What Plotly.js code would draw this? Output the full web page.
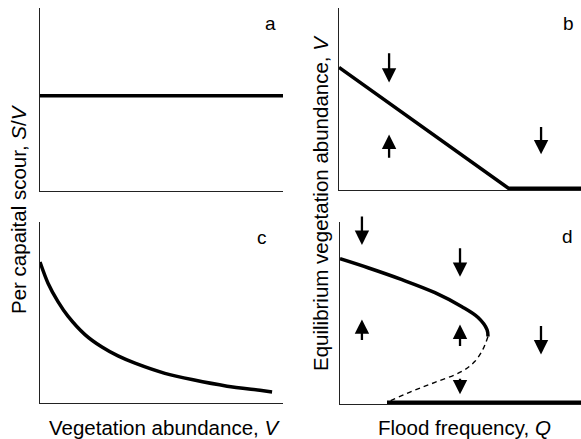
<!DOCTYPE html>
<html>
<head>
<meta charset="utf-8">
<script src="https://cdn.plot.ly/plotly-3.0.1.min.js"></script>
<style>html,body{margin:0;padding:0;background:#fff;}#chart{width:581px;height:439px;}</style>
</head>
<body>
<div id="chart"></div>
<script>
// Panel a: per capita scour vs vegetation abundance (constant)
var aX = [0, 10];
var aY = [5.2, 5.2];
// Panel b: equilibrium V vs flood frequency (linear)
var bX = [0, 7.0, 10];
var bY = [6.7, 0, 0];
// Panel c: per capita scour decreasing with V
var cX = [0, 0.33, 0.74, 1.15, 1.85, 2.55, 3.21, 3.91, 5.14, 6.30, 7.70, 9.05, 9.55];
var cY = [7.79, 6.62, 5.60, 4.80, 3.78, 3.09, 2.60, 2.20, 1.64, 1.28, 0.93, 0.70, 0.61];
// Panel d: stable upper branch (solid), unstable branch (dashed), zero branch
var dStableX = [0, 1.16, 2.57, 3.94, 5.06, 5.73, 6.10, 6.14];
var dStableY = [7.96, 7.46, 6.80, 6.08, 5.30, 4.70, 4.03, 3.65];
var dUnstableX = [6.14, 5.93, 5.60, 5.06, 3.94, 2.99, 1.95];
var dUnstableY = [3.65, 2.93, 2.27, 1.71, 1.10, 0.61, 0];
var dZeroX = [1.95, 10];
var dZeroY = [0, 0];
// Arrows: x, tail y, head y
var bArrowX = [2.07, 2.07, 8.35];
var bArrowTail = [7.57, 1.60, 3.48];
var bArrowHead = [5.86, 2.98, 1.88];
var dArrowX = [0.91, 4.98, 0.91, 4.98, 8.34, 4.98];
var dArrowTail = [10.39, 8.62, 3.37, 3.04, 4.31, 1.38];
var dArrowHead = [8.73, 6.96, 4.59, 4.31, 2.65, 0.44];
var panelLabels = ['a', 'b', 'c', 'd'];

var LW = 3.5;
var traces = [
  {x: aX, y: aY, xaxis: 'x', yaxis: 'y', mode: 'lines', line: {color: '#000', width: LW}},
  {x: bX, y: bY, xaxis: 'x2', yaxis: 'y2', mode: 'lines', line: {color: '#000', width: LW}},
  {x: cX, y: cY, xaxis: 'x3', yaxis: 'y3', mode: 'lines', line: {color: '#000', width: LW, shape: 'spline', smoothing: 0.8}},
  {x: dStableX, y: dStableY, xaxis: 'x4', yaxis: 'y4', mode: 'lines', line: {color: '#000', width: LW, shape: 'spline'}},
  {x: dUnstableX, y: dUnstableY, xaxis: 'x4', yaxis: 'y4', mode: 'lines', line: {color: '#000', width: 1.4, dash: '5px,4px', shape: 'spline'}},
  {x: dZeroX, y: dZeroY, xaxis: 'x4', yaxis: 'y4', mode: 'lines', line: {color: '#000', width: LW}}
];

function ax(domain, range, anchor) {
  return {domain: domain, range: range, anchor: anchor, showline: true, linecolor: '#222', linewidth: 1.2,
    showgrid: false, zeroline: false, showticklabels: false, ticks: '', fixedrange: true};
}

var annotations = [];
function arrows(xs, tails, heads, xr, yr) {
  for (var i = 0; i < xs.length; i++) {
    annotations.push({x: xs[i], y: heads[i], ax: xs[i], ay: tails[i], xref: xr, yref: yr, axref: xr, ayref: yr,
      text: '', showarrow: true, arrowhead: 2, arrowsize: 1.25, arrowwidth: 2.3, arrowcolor: '#000', standoff: 0, startstandoff: 0});
  }
}
arrows(bArrowX, bArrowTail, bArrowHead, 'x2', 'y2');
arrows(dArrowX, dArrowTail, dArrowHead, 'x4', 'y4');

var labelPos = [[270, 23], [568, 23], [262, 237], [567, 236]];
var font = {family: 'Liberation Sans, Arial, sans-serif', color: '#000'};
for (var k = 0; k < panelLabels.length; k++) {
  annotations.push({text: panelLabels[k], xref: 'paper', yref: 'paper', x: labelPos[k][0] / 581, y: 1 - labelPos[k][1] / 439,
    xanchor: 'center', yanchor: 'middle', showarrow: false, font: {family: font.family, color: '#000', size: 19}});
}
var tf = {family: font.family, color: '#000', size: 20.5};
annotations.push({text: 'Vegetation abundance, <i>V</i>', xref: 'paper', yref: 'paper', x: 164 / 581, y: 1 - 427 / 439,
  xanchor: 'center', yanchor: 'middle', showarrow: false, font: tf});
annotations.push({text: 'Flood frequency, <i>Q</i>', xref: 'paper', yref: 'paper', x: 464 / 581, y: 1 - 427 / 439,
  xanchor: 'center', yanchor: 'middle', showarrow: false, font: tf});
annotations.push({text: 'Per capaital scour, <i>S</i>/<i>V</i>', xref: 'paper', yref: 'paper', x: 18 / 581, y: 1 - 209 / 439,
  xanchor: 'center', yanchor: 'middle', textangle: -90, showarrow: false, font: tf});
annotations.push({text: 'Equilibrium vegetation abundance, <i>V</i>', xref: 'paper', yref: 'paper', x: 320 / 581, y: 1 - 203 / 439,
  xanchor: 'center', yanchor: 'middle', textangle: -90, showarrow: false, font: tf});

var layout = {
  width: 581, height: 439,
  margin: {l: 0, r: 0, t: 0, b: 0},
  paper_bgcolor: '#fff', plot_bgcolor: '#fff',
  showlegend: false,
  font: font,
  xaxis: ax([40 / 581, 283 / 581], [0, 10], 'y'),
  yaxis: ax([1 - 191 / 439, 1 - 8 / 439], [0, 10], 'x'),
  xaxis2: ax([339 / 581, 1], [0, 10], 'y2'),
  yaxis2: ax([1 - 190 / 439, 1 - 8 / 439], [-0.1, 10], 'x2'),
  xaxis3: ax([40 / 581, 283 / 581], [0, 10], 'y3'),
  yaxis3: ax([1 - 403 / 439, 1 - 222 / 439], [0, 10], 'x3'),
  xaxis4: ax([340 / 581, 1], [0, 10], 'y4'),
  yaxis4: ax([1 - 404 / 439, 1 - 222 / 439], [-0.1, 10], 'x4'),
  annotations: annotations
};

Plotly.newPlot('chart', traces, layout, {displayModeBar: false, staticPlot: true});
</script>
</body>
</html>
